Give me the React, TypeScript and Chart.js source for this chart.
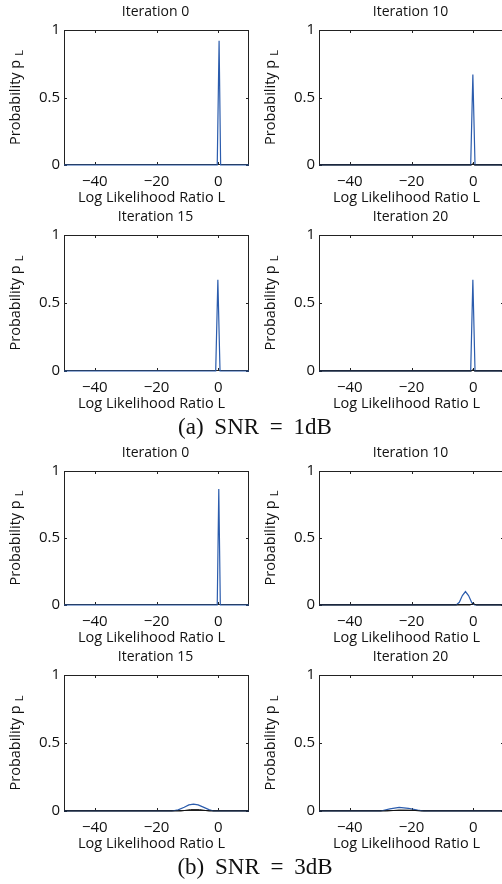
import React, { useEffect, useRef } from 'react';
import { Chart, registerables } from 'chart.js';

Chart.register(...registerables);

// ---------- axis definitions ----------
const xMin = -50;
const xMax = 10;
const xTickValues = [-40, -20, 0];
const xTickLabels = ['\u221240', '\u221220', '0'];
const yMin = 0;
const yMax = 1;
const yTickValues = [0, 0.5, 1];
const yTickLabels = ['0', '0.5', '1'];

const iterationTitles = ['Iteration 0', 'Iteration 10', 'Iteration 15', 'Iteration 20'];
const captionA = '(a) SNR = 1dB';
const captionB = '(b) SNR = 3dB';
const xAxisTitle = 'Log Likelihood Ratio L';
const yAxisTitle = 'Probability p';
const yAxisSubscript = 'L';

// ---------- data: SNR = 1 dB ----------
const snr1It0L = [-50, -0.3, 0.3, 0.8, 10];
const snr1It0P = [0, 0, 0.92, 0, 0];
const snr1It10L = [-50, -0.8, -0.1, 0.6, 10];
const snr1It10P = [0, 0, 0.67, 0, 0];
const snr1It10KL = [-50, -0.6, -0.1, 0.4, 10];
const snr1It10KP = [0, 0, 0.01, 0, 0];
const snr1It15L = [-50, -0.8, -0.1, 0.6, 10];
const snr1It15P = [0, 0, 0.67, 0, 0];
const snr1It20L = [-50, -0.8, -0.1, 0.6, 10];
const snr1It20P = [0, 0, 0.67, 0, 0];
const snr1It20KL = [-50, -0.6, -0.1, 0.4, 10];
const snr1It20KP = [0, 0, 0.01, 0, 0];

// ---------- data: SNR = 3 dB ----------
const snr3It0L = [-50, -0.3, 0.2, 0.7, 10];
const snr3It0P = [0, 0, 0.866, 0, 0];
const snr3It10L = [-50, -5.5, -4.5, -3.5, -2.5, -1.5, -0.5, 0.5, 10];
const snr3It10P = [0, 0, 0.02, 0.07, 0.1, 0.07, 0.02, 0, 0];
const snr3It10KL = [-50, -1, 0, 1, 10];
const snr3It10KP = [0, 0, 0.012, 0, 0];
const snr3It15L = [-50, -15, -13, -11, -9.5, -8, -6.5, -5, -3, -1.5, 10];
const snr3It15P = [0, 0, 0.008, 0.028, 0.045, 0.05, 0.045, 0.03, 0.01, 0, 0];
const snr3It15KL = [-50, -12, -9, -6, -3, 10];
const snr3It15KP = [0, 0, 0.01, 0.01, 0, 0];
const snr3It20L = [-50, -30, -27, -24, -21, -18, -16, 10];
const snr3It20P = [0, 0, 0.015, 0.027, 0.02, 0.006, 0, 0];
const snr3It20KL = [-50, -28, -24, -20, -17, 10];
const snr3It20KP = [0, 0, 0.007, 0.006, 0, 0];

// ---------- styling ----------
const FONT = '"Open Sans", sans-serif';
const FONT_SIZE = 14;
const TICK_SIZE = 15;
const TEXT = '#111111';
const AXIS = '#222222';
const BLUE = '#2b5cad';
const BLACK = '#111111';

const ML = 64; // space left of plot inside canvas
const MT = 30; // space above plot inside canvas
const PW = 185; // plot width
const CW = 251; // canvas width

type Panel = {
  left: number;
  top: number;
  h: number;
  title: string;
  bl: number[];
  bp: number[];
  kl?: number[];
  kp?: number[];
};

const colLeft = [64, 319];
const rowTop = [30, 235, 471, 675];
const rowH = [135, 136, 134, 136];

const panels: Panel[] = [
  { left: colLeft[0], top: rowTop[0], h: rowH[0], title: iterationTitles[0], bl: snr1It0L, bp: snr1It0P },
  { left: colLeft[1], top: rowTop[0], h: rowH[0], title: iterationTitles[1], bl: snr1It10L, bp: snr1It10P, kl: snr1It10KL, kp: snr1It10KP },
  { left: colLeft[0], top: rowTop[1], h: rowH[1], title: iterationTitles[2], bl: snr1It15L, bp: snr1It15P },
  { left: colLeft[1], top: rowTop[1], h: rowH[1], title: iterationTitles[3], bl: snr1It20L, bp: snr1It20P, kl: snr1It20KL, kp: snr1It20KP },
  { left: colLeft[0], top: rowTop[2], h: rowH[2], title: iterationTitles[0], bl: snr3It0L, bp: snr3It0P },
  { left: colLeft[1], top: rowTop[2], h: rowH[2], title: iterationTitles[1], bl: snr3It10L, bp: snr3It10P, kl: snr3It10KL, kp: snr3It10KP },
  { left: colLeft[0], top: rowTop[3], h: rowH[3], title: iterationTitles[2], bl: snr3It15L, bp: snr3It15P, kl: snr3It15KL, kp: snr3It15KP },
  { left: colLeft[1], top: rowTop[3], h: rowH[3], title: iterationTitles[3], bl: snr3It20L, bp: snr3It20P, kl: snr3It20KL, kp: snr3It20KP },
];

function toPoints(xs: number[], ys: number[]) {
  return xs.map((x, i) => ({ x, y: ys[i] }));
}

function SubPlot({ p }: { p: Panel }) {
  const ref = useRef<HTMLCanvasElement>(null);
  const H = MT + p.h + 50;

  useEffect(() => {
    const canvas = ref.current;
    if (!canvas) return;

    const frame = {
      id: 'frame',
      beforeDatasetsDraw(chart: any) {
        const { ctx, chartArea: a, scales } = chart;
        const xs = scales.x;
        const ys = scales.y;
        ctx.save();
        ctx.strokeStyle = AXIS;
        ctx.lineWidth = 1;
        ctx.strokeRect(a.left + 0.5, a.top + 0.5, a.right - a.left - 1, a.bottom - a.top - 1);
        ctx.beginPath();
        xTickValues.forEach((v) => {
          const px = Math.round(xs.getPixelForValue(v)) + 0.5;
          ctx.moveTo(px, a.bottom);
          ctx.lineTo(px, a.bottom - 3);
          ctx.moveTo(px, a.top);
          ctx.lineTo(px, a.top + 3);
        });
        yTickValues.forEach((v) => {
          const py = Math.round(ys.getPixelForValue(v)) + 0.5;
          ctx.moveTo(a.left, py);
          ctx.lineTo(a.left + 3, py);
          ctx.moveTo(a.right, py);
          ctx.lineTo(a.right - 3, py);
        });
        ctx.stroke();
        ctx.restore();
      },
      afterDraw(chart: any) {
        const { ctx, chartArea: a } = chart;
        const cx = (a.left + a.right) / 2;
        ctx.save();
        ctx.fillStyle = TEXT;
        ctx.font = `${FONT_SIZE}px ${FONT}`;
        ctx.textAlign = 'center';
        ctx.textBaseline = 'middle';
        ctx.fillText(p.title, cx - 1, a.top - 18);
        ctx.font = `${FONT_SIZE + 0.5}px ${FONT}`;
        ctx.fillText(xAxisTitle, cx - 5, a.bottom + 33);

        // rotated y title with subscript
        ctx.translate(a.left - 44, (a.top + a.bottom) / 2);
        ctx.rotate(-Math.PI / 2);
        ctx.textAlign = 'left';
        ctx.textBaseline = 'alphabetic';
        ctx.font = `${FONT_SIZE + 0.5}px ${FONT}`;
        const wMain = ctx.measureText(yAxisTitle).width;
        ctx.font = `${FONT_SIZE - 3}px ${FONT}`;
        const wSub = ctx.measureText(yAxisSubscript).width;
        const gap = 4;
        const total = wMain + gap + wSub;
        ctx.font = `${FONT_SIZE + 0.5}px ${FONT}`;
        ctx.fillText(yAxisTitle, -total / 2, 0);
        ctx.font = `${FONT_SIZE - 3}px ${FONT}`;
        ctx.fillText(yAxisSubscript, -total / 2 + wMain + gap, 3);
        ctx.restore();
      },
    };

    const datasets: any[] = [];
    if (p.kl && p.kp) {
      datasets.push({
        data: toPoints(p.kl, p.kp),
        borderColor: BLACK,
        borderWidth: 1,
        pointRadius: 0,
        tension: 0,
        fill: false,
        clip: false,
      });
    }
    datasets.push({
      data: toPoints(p.bl, p.bp),
      borderColor: BLUE,
      borderWidth: 1.2,
      pointRadius: 0,
      tension: 0,
      fill: false,
      clip: false,
    });

    const tickFont = { family: FONT, size: TICK_SIZE, lineHeight: 1.2 };

    const chart = new Chart(canvas, {
      type: 'line',
      data: { datasets },
      options: {
        animation: false,
        responsive: false,
        maintainAspectRatio: false,
        events: [],
        layout: { padding: { top: MT, left: 0, right: CW - ML - PW, bottom: 0 } },
        scales: {
          x: {
            type: 'linear',
            min: xMin,
            max: xMax,
            afterBuildTicks: (s: any) => {
              s.ticks = xTickValues.map((v) => ({ value: v }));
            },
            afterFit: (s: any) => {
              s.height = H - MT - p.h;
            },
            grid: { display: false, drawTicks: false },
            border: { display: false },
            ticks: {
              padding: 8,
              color: TEXT,
              font: tickFont,
              maxRotation: 0,
              autoSkip: false,
              callback: (_v: any, i: number) => xTickLabels[i],
            },
          },
          y: {
            type: 'linear',
            min: yMin,
            max: yMax,
            afterBuildTicks: (s: any) => {
              s.ticks = yTickValues.map((v) => ({ value: v }));
            },
            afterFit: (s: any) => {
              s.width = ML;
            },
            grid: { display: false, drawTicks: false },
            border: { display: false },
            ticks: {
              padding: 4,
              color: TEXT,
              font: tickFont,
              autoSkip: false,
              callback: (_v: any, i: number) => yTickLabels[i],
            },
          },
        },
        plugins: {
          legend: { display: false },
          tooltip: { enabled: false },
          title: { display: false },
        },
      } as any,
      plugins: [frame],
    });
    return () => chart.destroy();
  }, []);

  return (
    <div style={{ position: 'absolute', left: p.left - ML, top: p.top - MT, width: CW, height: H }}>
      <canvas ref={ref} width={CW} height={H} style={{ display: 'block', width: CW, height: H }} />
    </div>
  );
}

const captionStyle: React.CSSProperties = {
  position: 'absolute',
  left: 0,
  width: 510,
  textAlign: 'center',
  fontFamily: '"Liberation Serif", serif',
  fontSize: 23,
  lineHeight: '23px',
  wordSpacing: 5,
  color: '#111',
  whiteSpace: 'nowrap',
};

export default function App() {
  return (
    <div
      style={{
        position: 'absolute',
        left: 0,
        top: 0,
        width: 502,
        height: 884,
        overflow: 'hidden',
        background: '#fff',
      }}
    >
      {panels.map((p, i) => (
        <SubPlot key={i} p={p} />
      ))}
      <div style={{ ...captionStyle, top: 415 }}>{captionA}</div>
      <div style={{ ...captionStyle, top: 855 }}>{captionB}</div>
    </div>
  );
}
